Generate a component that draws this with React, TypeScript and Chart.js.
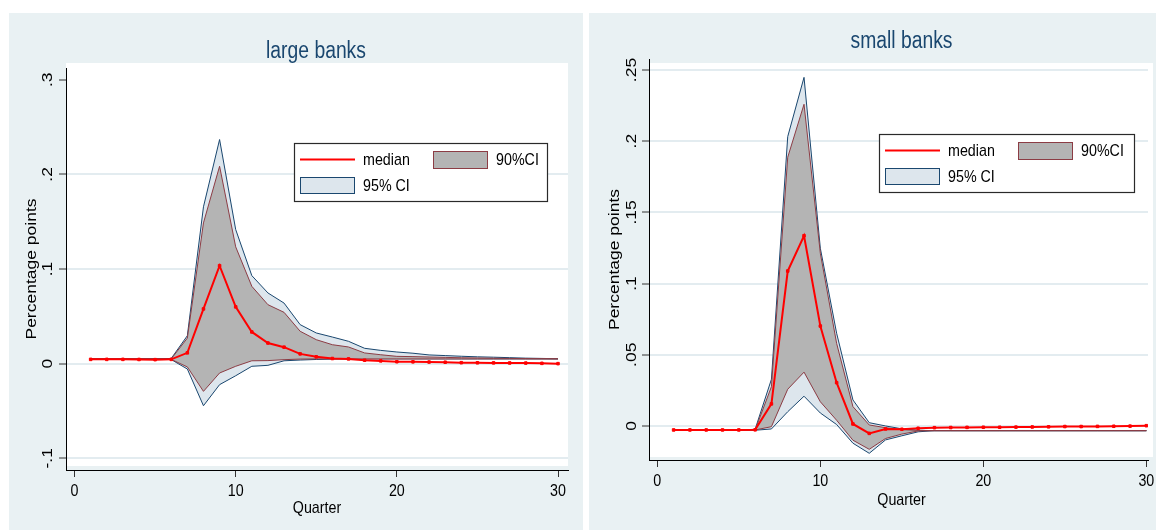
import React, { useEffect, useRef } from 'react';
import { Chart, registerables } from 'chart.js';

Chart.register(...registerables);

// ---------- data ----------
const QUARTERS = [1, 2, 3, 4, 5, 6, 7, 8, 9, 10, 11, 12, 13, 14, 15, 16, 17, 18, 19, 20, 21, 22, 23, 24, 25, 26, 27, 28, 29, 30];
const X_TICKS = [0, 10, 20, 30];
const X_TICK_LABELS = ['0', '10', '20', '30'];

const LARGE_Y_TICKS = [-0.1, 0, 0.1, 0.2, 0.3];
const LARGE_Y_LABELS = ['-.1', '0', '.1', '.2', '.3'];
const LARGE_MEDIAN = [0.0045, 0.0045, 0.0045, 0.0044, 0.0042, 0.0045, 0.0114, 0.0578, 0.1035, 0.0600, 0.0335, 0.0218, 0.0174, 0.0103, 0.0072, 0.0054, 0.0050, 0.0036, 0.0029, 0.0020, 0.0019, 0.0017, 0.0015, 0.0010, 0.0009, 0.0008, 0.0007, 0.0006, 0.0003, 0.0000];
const LARGE_HI95 = [0.0050, 0.0050, 0.0050, 0.0050, 0.0050, 0.0055, 0.0295, 0.1657, 0.2368, 0.1417, 0.0930, 0.0747, 0.0640, 0.0412, 0.0324, 0.0281, 0.0236, 0.0162, 0.0140, 0.0123, 0.0110, 0.0092, 0.0085, 0.0078, 0.0072, 0.0068, 0.0063, 0.0058, 0.0055, 0.0052];
const LARGE_HI90 = [0.0050, 0.0050, 0.0050, 0.0050, 0.0050, 0.0050, 0.0270, 0.1487, 0.2086, 0.1234, 0.0817, 0.0623, 0.0542, 0.0342, 0.0253, 0.0200, 0.0176, 0.0113, 0.0094, 0.0077, 0.0074, 0.0070, 0.0066, 0.0062, 0.0060, 0.0057, 0.0055, 0.0053, 0.0052, 0.0051];
const LARGE_LO90 = [0.0050, 0.0050, 0.0050, 0.0050, 0.0050, 0.0045, -0.0035, -0.0293, -0.0099, -0.0028, 0.0030, 0.0032, 0.0042, 0.0048, 0.0050, 0.0050, 0.0050, 0.0050, 0.0050, 0.0050, 0.0050, 0.0050, 0.0050, 0.0050, 0.0050, 0.0050, 0.0050, 0.0050, 0.0050, 0.0050];
const LARGE_LO95 = [0.0050, 0.0050, 0.0050, 0.0050, 0.0050, 0.0043, -0.0057, -0.0445, -0.0222, -0.0128, -0.0028, -0.0018, 0.0030, 0.0038, 0.0044, 0.0048, 0.0050, 0.0050, 0.0050, 0.0050, 0.0050, 0.0050, 0.0050, 0.0050, 0.0050, 0.0050, 0.0050, 0.0050, 0.0050, 0.0050];

const SMALL_Y_TICKS = [0, 0.05, 0.1, 0.15, 0.2, 0.25];
const SMALL_Y_LABELS = ['0', '.05', '.1', '.15', '.2', '.25'];
const SMALL_MEDIAN = [-0.0028, -0.0028, -0.0028, -0.0028, -0.0028, -0.0027, 0.0155, 0.1088, 0.1336, 0.0702, 0.0304, 0.0014, -0.0052, -0.0021, -0.0023, -0.0016, -0.0012, -0.0011, -0.0010, -0.0009, -0.0009, -0.0008, -0.0007, -0.0006, -0.0004, -0.0004, -0.0003, -0.0002, -0.0001, 0.0002];
const SMALL_HI95 = [-0.0030, -0.0030, -0.0030, -0.0030, -0.0030, -0.0023, 0.0328, 0.2032, 0.2448, 0.1248, 0.0651, 0.0183, 0.0023, 0.0000, -0.0020, -0.0030, -0.0033, -0.0033, -0.0033, -0.0033, -0.0033, -0.0033, -0.0033, -0.0033, -0.0033, -0.0033, -0.0033, -0.0033, -0.0033, -0.0033];
const SMALL_HI90 = [-0.0030, -0.0030, -0.0030, -0.0030, -0.0030, -0.0028, 0.0276, 0.1887, 0.2259, 0.1213, 0.0580, 0.0136, 0.0007, -0.0012, -0.0026, -0.0031, -0.0033, -0.0033, -0.0033, -0.0033, -0.0033, -0.0033, -0.0033, -0.0033, -0.0033, -0.0033, -0.0033, -0.0033, -0.0033, -0.0033];
const SMALL_LO90 = [-0.0030, -0.0030, -0.0030, -0.0030, -0.0030, -0.0028, -0.0005, 0.0258, 0.0378, 0.0170, 0.0040, -0.0100, -0.0164, -0.0088, -0.0057, -0.0035, -0.0033, -0.0033, -0.0033, -0.0033, -0.0033, -0.0033, -0.0033, -0.0033, -0.0033, -0.0033, -0.0033, -0.0033, -0.0033, -0.0033];
const SMALL_LO95 = [-0.0030, -0.0030, -0.0030, -0.0030, -0.0030, -0.0030, -0.0021, 0.0100, 0.0209, 0.0091, 0.0010, -0.0121, -0.0192, -0.0098, -0.0069, -0.0041, -0.0033, -0.0033, -0.0033, -0.0033, -0.0033, -0.0033, -0.0033, -0.0033, -0.0033, -0.0033, -0.0033, -0.0033, -0.0033, -0.0033];

// ---------- styles ----------
const FONT = "'Liberation Sans', Arial, Helvetica, sans-serif";
const BG = '#e9f1f3';
const GRID = '#e3ecf0';
const NAVY = '#1a476f';
const FILL95 = '#dde6ed';
const FILL90 = '#b4b4b4';
const MAROON = '#8c3c44';
const RED = '#ff0000';
const SQUEEZE = 0.84; // the reference text is condensed across its width

type PanelCfg = {
  title: string;
  median: number[];
  hi95: number[];
  lo95: number[];
  hi90: number[];
  lo90: number[];
  yTicks: number[];
  yLabels: string[];
  gridSkip: number[];
  xMin: number; xMax: number; yMin: number; yMax: number;
  width: number; height: number;
  areaLeft: number; areaTop: number; areaRight: number; areaBottom: number;
  white: [number, number, number, number];
  titleX: number; titleY: number;
  yTitleX: number; xTitleY: number; xTitleDx: number;
  yTickDx: number; xTickDy: number;
  legendDx: number; legendDy: number; legendW: number;
};

function pts(vals: number[]) {
  return QUARTERS.map((q, i) => ({ x: q, y: vals[i] }));
}

function drawText(ctx: CanvasRenderingContext2D, text: string, x: number, y: number, size: number, align: CanvasTextAlign, rotated: boolean, color: string) {
  ctx.save();
  ctx.translate(x, y);
  if (rotated) {
    ctx.rotate(-Math.PI / 2);
    ctx.scale(1, SQUEEZE);
  } else {
    ctx.scale(SQUEEZE, 1);
  }
  ctx.font = `${size}px ${FONT}`;
  ctx.fillStyle = color;
  ctx.textAlign = align;
  ctx.textBaseline = 'middle';
  ctx.fillText(text, 0, 0);
  ctx.restore();
}

function Panel({ cfg, left, top }: { cfg: PanelCfg; left: number; top: number }) {
  const ref = useRef<HTMLCanvasElement | null>(null);

  useEffect(() => {
    if (!ref.current) return;

    const decor = {
      id: 'decor',
      beforeDraw(chart: any) {
        const { ctx, chartArea: ca, width, height } = chart;
        ctx.save();
        ctx.fillStyle = BG;
        ctx.fillRect(0, 0, width, height);
        ctx.fillStyle = '#ffffff';
        const [il, it, ir, ib] = cfg.white;
        ctx.fillRect(ca.left + il, ca.top + it, ca.right + ir - (ca.left + il), ca.bottom + ib - (ca.top + it));
        ctx.restore();
      },
      afterDraw(chart: any) {
        const { ctx, chartArea: ca } = chart;
        const xs = chart.scales.x;
        const ys = chart.scales.y;

        drawText(ctx, cfg.title, cfg.titleX, cfg.titleY, 23, 'center', false, NAVY);

        X_TICKS.forEach((v, i) => {
          drawText(ctx, X_TICK_LABELS[i], xs.getPixelForValue(v), ca.bottom + cfg.xTickDy, 17, 'center', false, '#000');
        });
        drawText(ctx, 'Quarter', (ca.left + ca.right) / 2 + cfg.xTitleDx, cfg.xTitleY, 17, 'center', false, '#000');

        cfg.yTicks.forEach((v, i) => {
          drawText(ctx, cfg.yLabels[i], ca.left - cfg.yTickDx, ys.getPixelForValue(v), 17.5, 'center', true, '#000');
        });
        drawText(ctx, 'Percentage points', cfg.yTitleX, (ca.top + ca.bottom) / 2, 17.5, 'center', true, '#000');

        // legend
        ctx.save();
        const lx = Math.round(ca.left + cfg.legendDx);
        const ly = Math.round(ca.top + cfg.legendDy);
        const lw = cfg.legendW;
        const lh = 58;
        ctx.fillStyle = '#fff';
        ctx.fillRect(lx, ly, lw, lh);
        ctx.strokeStyle = '#2a2a2a';
        ctx.lineWidth = 1.2;
        ctx.strokeRect(lx + 0.5, ly + 0.5, lw, lh);

        ctx.strokeStyle = RED;
        ctx.lineWidth = 2;
        ctx.beginPath();
        ctx.moveTo(lx + 6, ly + 16.5);
        ctx.lineTo(lx + 61, ly + 16.5);
        ctx.stroke();

        ctx.fillStyle = FILL90;
        ctx.fillRect(lx + 139.5, ly + 8.5, 54, 17);
        ctx.strokeStyle = MAROON;
        ctx.lineWidth = 1;
        ctx.strokeRect(lx + 139.5, ly + 8.5, 54, 17);

        ctx.fillStyle = FILL95;
        ctx.fillRect(lx + 6.5, ly + 34.5, 54, 16);
        ctx.strokeStyle = NAVY;
        ctx.strokeRect(lx + 6.5, ly + 34.5, 54, 16);
        ctx.restore();

        drawText(ctx, 'median', lx + 69, ly + 17, 17, 'left', false, '#000');
        drawText(ctx, '90%CI', lx + 202, ly + 17, 17, 'left', false, '#000');
        drawText(ctx, '95% CI', lx + 69, ly + 43, 17, 'left', false, '#000');
      },
    };

    const chart = new Chart(ref.current, {
      type: 'line',
      data: {
        datasets: [
          { label: '95% CI upper', data: pts(cfg.hi95), borderColor: NAVY, borderWidth: 1, backgroundColor: FILL95, fill: '+1', pointRadius: 0, order: 4 },
          { label: '95% CI lower', data: pts(cfg.lo95), borderColor: NAVY, borderWidth: 1, backgroundColor: FILL95, fill: false, pointRadius: 0, order: 3 },
          { label: '90%CI upper', data: pts(cfg.hi90), borderColor: MAROON, borderWidth: 1, backgroundColor: FILL90, fill: '+1', pointRadius: 0, order: 2 },
          { label: '90%CI lower', data: pts(cfg.lo90), borderColor: MAROON, borderWidth: 1, backgroundColor: FILL90, fill: false, pointRadius: 0, order: 1 },
          { label: 'median', data: pts(cfg.median), borderColor: RED, borderWidth: 2, backgroundColor: RED, fill: false, pointRadius: 1.8, pointStyle: 'rect', pointBorderWidth: 1, pointBorderColor: RED, pointBackgroundColor: RED, order: 0 },
        ],
      },
      options: {
        responsive: false,
        animation: false,
        devicePixelRatio: 1,
        events: [],
        layout: { padding: { left: 0, top: cfg.areaTop, right: cfg.width - cfg.areaRight, bottom: 0 } },
        elements: { line: { tension: 0 } },
        plugins: { legend: { display: false }, tooltip: { enabled: false }, title: { display: false } },
        scales: {
          x: {
            type: 'linear',
            min: cfg.xMin,
            max: cfg.xMax,
            afterBuildTicks: (s: any) => { s.ticks = X_TICKS.map((v) => ({ value: v })); },
            afterFit: (s: any) => { s.height = cfg.height - cfg.areaBottom; },
            ticks: { display: false },
            grid: { drawOnChartArea: false, drawTicks: true, tickLength: 7, tickColor: '#333', tickWidth: 1 },
            border: { display: true, color: '#000', width: 1 },
          },
          y: {
            type: 'linear',
            min: cfg.yMin,
            max: cfg.yMax,
            afterBuildTicks: (s: any) => { s.ticks = cfg.yTicks.map((v) => ({ value: v })); },
            afterFit: (s: any) => { s.width = cfg.areaLeft; },
            ticks: { display: false },
            grid: {
              drawOnChartArea: true,
              drawTicks: true,
              tickLength: 7,
              tickColor: '#333',
              tickWidth: 1,
              lineWidth: 2,
              color: (c: any) => (c.tick && cfg.gridSkip.includes(c.tick.value) ? 'rgba(0,0,0,0)' : GRID),
            },
            border: { display: true, color: '#000', width: 1 },
          },
        },
      } as any,
      plugins: [decor],
    });
    return () => chart.destroy();
  }, [cfg]);

  return (
    <canvas
      ref={ref}
      width={cfg.width}
      height={cfg.height}
      style={{ position: 'absolute', left, top, width: cfg.width, height: cfg.height, display: 'block' }}
    />
  );
}

const LARGE_CFG: PanelCfg = {
  title: 'large banks',
  median: LARGE_MEDIAN, hi95: LARGE_HI95, lo95: LARGE_LO95, hi90: LARGE_HI90, lo90: LARGE_LO90,
  yTicks: LARGE_Y_TICKS, yLabels: LARGE_Y_LABELS, gridSkip: [0.3],
  xMin: -0.53, xMax: 30.62, yMin: -0.1124, yMax: 0.3124,
  width: 574, height: 517,
  areaLeft: 57, areaTop: 55, areaRight: 559, areaBottom: 457,
  white: [0, -5, 0, -4],
  titleX: 307, titleY: 39,
  yTitleX: 22.5, xTitleY: 495, xTitleDx: 0,
  yTickDx: 18, xTickDy: 21,
  legendDx: 228, legendDy: 75, legendW: 253,
};

const SMALL_CFG: PanelCfg = {
  title: 'small banks',
  median: SMALL_MEDIAN, hi95: SMALL_HI95, lo95: SMALL_LO95, hi90: SMALL_HI90, lo90: SMALL_LO90,
  yTicks: SMALL_Y_TICKS, yLabels: SMALL_Y_LABELS, gridSkip: [],
  xMin: -0.51, xMax: 30.1, yMin: -0.0239, yMax: 0.2577,
  width: 567, height: 517,
  areaLeft: 60, areaTop: 46, areaRight: 559, areaBottom: 447,
  white: [0, 4, 5, -3],
  titleX: 312.5, titleY: 28.5,
  yTitleX: 26.3, xTitleY: 487, xTitleDx: 3,
  yTickDx: 17, xTickDy: 21.5,
  legendDx: 230, legendDy: 75, legendW: 255,
};

export default function App() {
  return (
    <div style={{ position: 'absolute', left: 0, top: 0, width: 1156, height: 530, background: '#ffffff', overflow: 'hidden' }}>
      <Panel cfg={LARGE_CFG} left={9} top={13} />
      <Panel cfg={SMALL_CFG} left={589} top={13} />
    </div>
  );
}
